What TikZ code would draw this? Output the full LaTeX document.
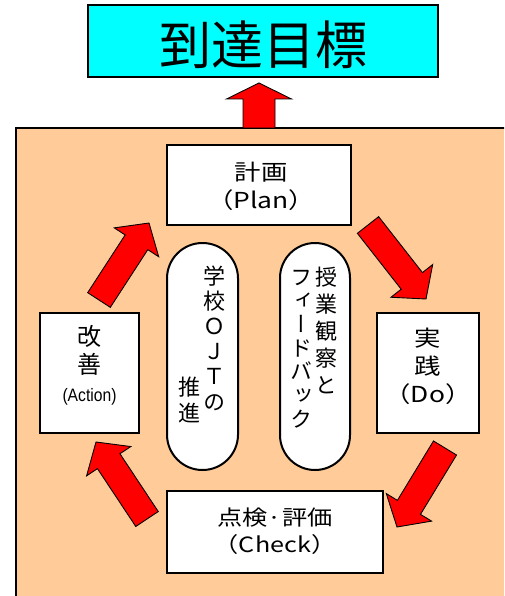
\documentclass[tikz,border=0pt]{standalone}
\usepackage{fontspec}
\usepackage{graphicx}
\setmainfont{Liberation Sans}
\newfontfamily\jp{Noto Sans CJK JP}
\newfontfamily\jpw[FakeStretch=1.2]{Noto Sans CJK JP}
\newfontfamily\jpv[RawFeature=+vert]{Noto Sans CJK JP}
\usetikzlibrary{calc}
\definecolor{peach}{HTML}{FFCC99}
\definecolor{aqua}{HTML}{00FFFF}
\definecolor{arrred}{HTML}{FF0000}
\tikzset{
  stagebox/.style={draw=black, line width=2.6pt, fill=white, inner sep=0pt},
  pill/.style={draw=black, line width=2pt, fill=white, inner sep=0pt},
  barrow/.style={draw=black, line width=0.9pt, fill=arrred, line join=miter},
  boxtext/.style={align=center, inner sep=0pt, font=\jpw\fontsize{22}{28}\selectfont},
  vtext/.style={align=center, inner sep=0pt, font=\jpv\fontsize{22}{#1}\selectfont},
}
% tail, tip, shaft half width, head half width, head length
\newcommand\blockarrow[5]{%
  \coordinate (#1#2q) at ($(#2)!#5!(#1)$);
  \draw[barrow] ($(#1)!#3!90:(#2)$) -- ($(#1#2q)!#3!90:(#2)$) -- ($(#1#2q)!#4!90:(#2)$)
    -- (#2) -- ($(#1#2q)!#4!-90:(#2)$) -- ($(#1#2q)!#3!-90:(#2)$) -- ($(#1)!#3!-90:(#2)$) -- cycle;
}
\begin{document}
\begin{tikzpicture}[x=1pt, y=-1pt]
\useasboundingbox (0,0) rectangle (504,596);
\clip (0,0) rectangle (504,596);
\fill[white] (0,0) rectangle (504,596);

% goal box
\node[draw=black, line width=2pt, fill=aqua, minimum width=350pt, minimum height=72pt, inner sep=0pt] (goal) at (263,41) {};
\node[inner sep=0pt, font=\jp\fontsize{52}{60}\selectfont] (goaltxt) at (263,45) {到達目標};

% background panel
\draw[fill=peach, line width=2pt] (16,128) rectangle (540,640);

% up arrow
\coordinate (upT) at (259,128);
\coordinate (upH) at (259,83);
\blockarrow{upT}{upH}{16pt}{32.5pt}{16pt}

% stage boxes
\node[stagebox, minimum width=184pt, minimum height=80pt] (plan) at (259,185) {};
\node[stagebox, minimum width=99pt, minimum height=120pt] (act) at (89.5,373) {};
\node[stagebox, minimum width=102pt, minimum height=120pt] (do) at (428,373) {};
\node[stagebox, minimum width=216pt, minimum height=82pt] (check) at (275,532) {};

\node[boxtext] (plantxt) at (261,186) {計画\\（Plan）};
\node[boxtext, font=\jp\fontsize{24}{28}\selectfont] (acttxt) at (89.5,365) {改\\善\\{\fontspec{Liberation Sans}\scalebox{0.87}[1]{\fontsize{18}{28}\selectfont (Action)}}};
\node[boxtext] (dotxt) at (428,366) {実\\践\\（Do）};
\node[boxtext, font=\jpw\fontsize{21}{27}\selectfont] (checktxt) at (275,531.5) {点検·評価\\（Check）};

% pills
\node[pill, minimum width=71pt, minimum height=227pt, rounded corners=35.5pt] (ojt) at (202.5,356.5) {};
\node[pill, minimum width=70pt, minimum height=227pt, rounded corners=35pt] (obs) at (315,356.5) {};

\node[vtext=25.2] (ojta) at (214,338) {学\\校\\Ｏ\\Ｊ\\Ｔ\\の};
\node[vtext=26] (ojtb) at (189,400) {推\\進};
\node[vtext=27] (obsa) at (326,330) {授\\業\\観\\察\\と};
\node[vtext=23.7] (obsb) at (301,349) {フ\\ィ\\ー\\ド\\バ\\ッ\\ク};

% cycle arrows
\coordinate (a2t) at (368,225);
\coordinate (a2h) at (426,299);
\coordinate (a3t) at (445,448);
\coordinate (a3h) at (397,527);
\coordinate (a4t) at (147,519);
\coordinate (a4h) at (96,442);
\coordinate (a5t) at (99,300);
\coordinate (a5h) at (149,223);
\blockarrow{a2t}{a2h}{13.5pt}{26.5pt}{23pt}
\blockarrow{a3t}{a3h}{13.5pt}{26.5pt}{23pt}
\blockarrow{a4t}{a4h}{13.5pt}{26.5pt}{23pt}
\blockarrow{a5t}{a5h}{13.5pt}{26.5pt}{23pt}
\end{tikzpicture}
\end{document}
